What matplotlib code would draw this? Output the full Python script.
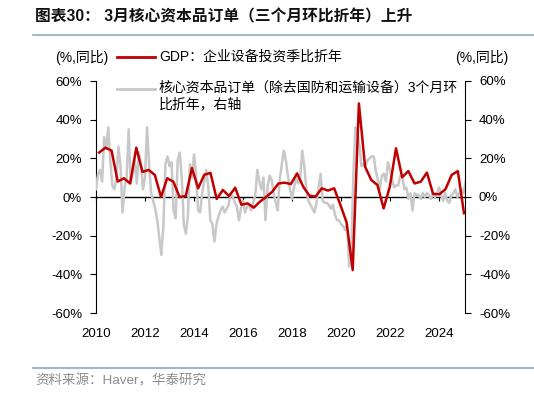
import matplotlib
matplotlib.use('Agg')
import matplotlib.pyplot as plt
from matplotlib.lines import Line2D
import numpy as np

plt.rcParams['font.family'] = ['Liberation Sans', 'Noto Sans CJK SC']
plt.rcParams['axes.unicode_minus'] = False

# ---------------- data ----------------
# GDP: equipment investment, qoq annualised, 2010Q1 .. 2024Q4 (left axis)
gdp_quarters = [f"{y}Q{q}" for y in range(2010, 2025) for q in range(1, 5)]
gdp_equip = [
    23, 25.5, 24, 8,
    9.7, 7, 25.5, 13,
    14, 11.4, 0, 9.7,
    7.9, 0, 0.5, 15,
    4.5, 11.5, 12.5, -1,
    3.6, 0.5, 4.8, -4,
    -3.3, -5.5, -2.4, 0,
    2.8, 7, 7.4, 6.7,
    12.2, 5.3, 0.7, 0.2,
    4.5, 3.3, 4.5, -4,
    -13, -37.8, 48.4, 15.7,
    8.8, 6.2, -5.9, 5.3,
    25.2, 10.2, 13.4, 7,
    7.9, 12.6, 1.6, 1.4,
    4, 11.4, 13.4, -8.4,
]

# Core capital goods orders (ex defence & aircraft), 3m/3m annualised, monthly from 2010-01 (right axis)
core_orders = [
    4, 12, 14, 8, 31, 25, 36, 19, 6, 4, 10, 26,
    16, -8, 5, 10, 35, 7, 12, 19, 7, 23, 17, 4,
    10, 36, 17, 2, -2, -6, -12, -21, -30, -15, 17, 21,
    16, 18, -7, -11, 19, 23, 10, -14, -19, -10, 17, 10,
    22, 12, -7, -8, 2, 8, 14, 5, -12, -14, -23, -14,
    -10, -7, -5, -8, -6, -4, 2, 0, -3, -5, -12, -6,
    -2, -8, -5, -4, -7, -3, 1, 14, 8, 4, 10, -12,
    5, 11, 9, 2, -3, -7, 9, 17, 24, 19, 11, 4,
    -1, 5, 10, 7, 10, 24, 16, 4, -2, -4, -6, -8,
    -3, 5, 12, -2, -3, -3, -4, -6, -4, -9, -12, -12,
    -14, -15, -17, -14, -36, -31, 10, 36, 33, 27, 16, 17,
    16, 19, 20, 21, 21, 14, 9, 4, 11, 12, 8, 18,
    14, 9, 5, 6, 6, 11, 10, 4, 5, -1, 2, -7,
    2, 1, 1, -1, 2, 0, 2, 1, -1, 2, 0, 2,
    5, 1, -2, 2, -2, -3, 1, 2, 4, 0, 2, 4,
    2, 8,
]
year_ticks = [2010, 2012, 2014, 2016, 2018, 2020, 2022, 2024]
pct_ticks = [-60, -40, -20, 0, 20, 40, 60]

# ---------------- layout ----------------
W, H = 534, 393
fig = plt.figure(figsize=(W / 100, H / 100), dpi=100)
fx = lambda px: px / W
fy = lambda py: 1 - py / H

RED = '#c00000'
GRAY = '#c8c8c8'

ax = fig.add_axes([fx(96), fy(313), fx(465) - fx(96), fy(81) - fy(313)])
ax.set_xlim(2010, 2025.06)
ax.set_ylim(-60, 60)
ax.set_yticks(pct_ticks)
ax.set_yticklabels([f"{v}%" for v in pct_ticks], fontsize=9.5)
ax.tick_params(axis='y', direction='out', length=4, width=0.8, pad=6)
for s in ['top', 'right']:
    ax.spines[s].set_visible(False)
ax.spines['left'].set_linewidth(0.8)
ax.spines['bottom'].set_position(('data', 0))
ax.spines['bottom'].set_linewidth(1.0)
ax.set_xticks(year_ticks)
ax.tick_params(axis='x', direction='out', length=3, width=0.8, labelbottom=False)

sec = ax.secondary_xaxis(0.0)
sec.set_xticks(year_ticks)
sec.set_xticklabels([str(y) for y in year_ticks], fontsize=9.5)
sec.tick_params(length=0, pad=11)
sec.spines['bottom'].set_visible(False)

# right axis: core orders
ax_r = ax.twinx()
ax_r.set_ylim(-60, 60)
ax_r.set_yticks(pct_ticks)
ax_r.set_yticklabels([f"{v}%" for v in pct_ticks], fontsize=9.5)
ax_r.tick_params(axis='y', direction='out', length=4, width=0.8, pad=6)
for s in ['top', 'left', 'bottom']:
    ax_r.spines[s].set_visible(False)
ax_r.spines['right'].set_linewidth(0.8)
months = 2010 + np.arange(len(core_orders)) / 12.0
ax_r.plot(months, core_orders, color=GRAY, lw=1.8, solid_joinstyle='round')
ax_r.set_xlim(2010, 2025.06)

# red series on its own quarterly category axis
ax_q = ax.twiny()
ax_q.set_xlim(-0.515, 59.16)
ax_q.axis('off')
ax_q.plot(np.arange(len(gdp_equip)), gdp_equip, color=RED, lw=1.8, solid_joinstyle='round')

# ---------------- texts / legend ----------------
fig.text(fx(35), fy(17), "图表30： 3月核心资本品订单（三个月环比折年）上升", fontsize=11.3,
         fontweight='bold', va='center', ha='left', color='#111111')
fig.add_artist(Line2D([fx(33), fx(534)], [fy(35), fy(35)], color='#8ea9c8', lw=1.2))
fig.add_artist(Line2D([fx(33), fx(534)], [fy(368), fy(368)], color='#8ea9c8', lw=1.2))
fig.text(fx(35), fy(381), "资料来源：Haver，华泰研究", fontsize=9.7, color='#8c8c8c',
         va='center', ha='left')

fig.text(fx(55), fy(57), "(%,同比)", fontsize=10, va='center', ha='left')
fig.text(fx(508), fy(57), "(%,同比)", fontsize=10, va='center', ha='right')

fig.add_artist(Line2D([fx(117), fx(155)], [fy(57), fy(57)], color=RED, lw=2))
fig.text(fx(159), fy(57), "GDP：企业设备投资季比折年", fontsize=10, va='center', ha='left')
fig.add_artist(Line2D([fx(117), fx(155)], [fy(89), fy(89)], color=GRAY, lw=2))
fig.text(fx(159), fy(81), "核心资本品订单（除去国防和运输设备）3个月环\n比折年，右轴", fontsize=10,
         va='top', ha='left', linespacing=1.2)

fig.savefig('out.png', dpi=100, facecolor='white')
